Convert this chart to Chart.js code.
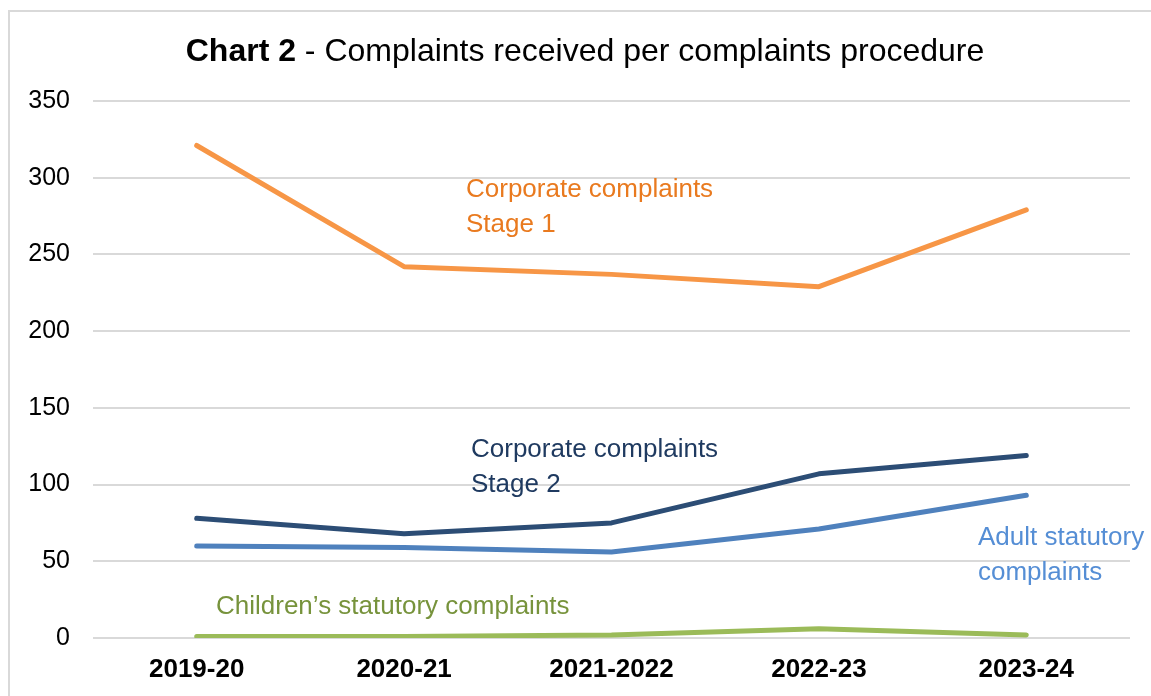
<!DOCTYPE html>
<html>
<head>
<meta charset="utf-8">
<script src="https://cdn.jsdelivr.net/npm/chart.js@4/dist/chart.umd.min.js"></script>
<style>
  body { margin: 0; background: #fff; }
  canvas { display: block; }
</style>
</head>
<body>
<canvas id="myChart" width="1151" height="696"></canvas>
<script>
const years = ['2019-20', '2020-21', '2021-2022', '2022-23', '2023-24'];
const corporateStage1 = [321, 242, 237, 229, 279];
const corporateStage2 = [78, 68, 75, 107, 119];
const adultStatutory = [60, 59, 56, 71, 93];
const childrensStatutory = [1, 1, 2, 6, 2];
const yTicks = [0, 50, 100, 150, 200, 250, 300, 350];

const FONT = '"Liberation Sans", Arial, sans-serif';

// frame, title and line labels
const decorations = {
    id: 'decorations',
    beforeDraw(chart) {
        const c = chart.ctx;
        c.save();
        c.strokeStyle = '#d9d9d9';
        c.lineWidth = 2;
        c.strokeRect(9, 11, 1200, 800);
        c.restore();
    },
    afterDatasetsDraw(chart) {
        const c = chart.ctx;
        c.save();
        // title, bold part + normal part
        const bold = 'Chart 2';
        const rest = ' - Complaints received per complaints procedure';
        c.textBaseline = 'alphabetic';
        c.fillStyle = '#000';
        c.font = 'bold 32px ' + FONT;
        const w1 = c.measureText(bold).width;
        c.font = '32px ' + FONT;
        const w2 = c.measureText(rest).width;
        const x0 = 585 - (w1 + w2) / 2;
        c.font = 'bold 32px ' + FONT;
        c.fillText(bold, x0, 61);
        c.font = '32px ' + FONT;
        c.fillText(rest, x0 + w1, 61);

        c.font = '26px ' + FONT;
        c.textAlign = 'left';
        const labels = [
            {lines: ['Corporate complaints', 'Stage 1'], x: 466, y: 197, color: '#e97a1f'},
            {lines: ['Corporate complaints', 'Stage 2'], x: 471, y: 457, color: '#1f3a60'},
            {lines: ['Adult statutory', 'complaints'], x: 978, y: 545, color: '#558ed5'},
            {lines: ['Children\u2019s statutory complaints'], x: 216, y: 614, color: '#77933c'}
        ];
        labels.forEach(l => {
            c.fillStyle = l.color;
            l.lines.forEach((t, i) => c.fillText(t, l.x, l.y + i * 35));
        });
        c.restore();
    }
};

function myLoadFunction() {
    const ctx = document.getElementById('myChart').getContext('2d');
    const lineStyle = {
        borderWidth: 5,
        borderCapStyle: 'round',
        borderJoinStyle: 'round',
        pointRadius: 0,
        tension: 0,
        fill: false
    };
    new Chart(ctx, {
        type: 'line',
        data: {
            labels: years,
            datasets: [
                Object.assign({label: 'Corporate complaints Stage 1', data: corporateStage1, borderColor: '#f79646'}, lineStyle),
                Object.assign({label: 'Corporate complaints Stage 2', data: corporateStage2, borderColor: '#2c4d75'}, lineStyle),
                Object.assign({label: 'Adult statutory complaints', data: adultStatutory, borderColor: '#4f81bd'}, lineStyle),
                Object.assign({label: 'Children\u2019s statutory complaints', data: childrensStatutory, borderColor: '#9bbb59'}, lineStyle)
            ]
        },
        options: {
            responsive: false,
            animation: false,
            layout: { padding: { top: 101, left: 0, right: 21, bottom: 0 } },
            plugins: {
                legend: { display: false },
                title: { display: false },
                tooltip: { enabled: false }
            },
            scales: {
                x: {
                    offset: true,
                    grid: { display: false, drawTicks: false },
                    border: { display: false },
                    ticks: {
                        color: '#000',
                        padding: 16,
                        font: { family: FONT, size: 26, weight: 'bold' },
                        maxRotation: 0
                    },
                    afterFit(scale) { scale.height = 58; }
                },
                y: {
                    min: 0,
                    max: 350,
                    afterBuildTicks(scale) { scale.ticks = yTicks.map(v => ({value: v})); },
                    grid: { color: '#d9d9d9', lineWidth: 2, drawTicks: false },
                    border: { display: false },
                    ticks: {
                        color: '#000',
                        padding: 23,
                        font: { family: FONT, size: 25 }
                    },
                    afterFit(scale) { scale.width = 93; }
                }
            }
        },
        plugins: [decorations]
    });
}
document.addEventListener('DOMContentLoaded', myLoadFunction);
</script>
</body>
</html>
